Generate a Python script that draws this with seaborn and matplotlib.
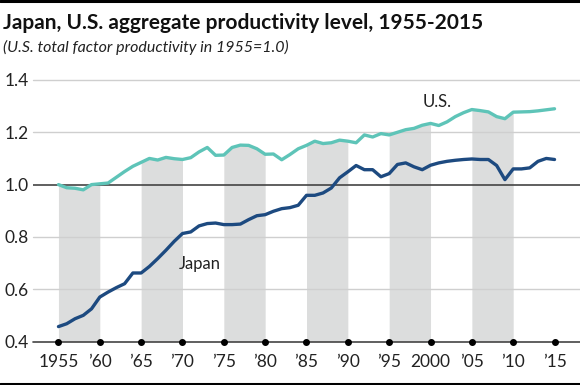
import numpy as np
import pandas as pd
import matplotlib
matplotlib.use("Agg")
import matplotlib.pyplot as plt
import seaborn as sns
from matplotlib.lines import Line2D

years = list(range(1955, 2016))
us = [1.000, 0.988, 0.986, 0.980, 1.000, 1.003, 1.006, 1.028, 1.050, 1.070,
      1.085, 1.100, 1.094, 1.104, 1.099, 1.096, 1.103, 1.125, 1.142, 1.112,
      1.113, 1.142, 1.151, 1.150, 1.137, 1.116, 1.117, 1.095, 1.115, 1.137,
      1.150, 1.166, 1.157, 1.160, 1.170, 1.166, 1.160, 1.190, 1.182, 1.195,
      1.190, 1.200, 1.210, 1.215, 1.227, 1.234, 1.226, 1.240, 1.260, 1.275,
      1.287, 1.283, 1.278, 1.260, 1.252, 1.277, 1.278, 1.279, 1.282, 1.286,
      1.290]
japan = [0.457, 0.468, 0.487, 0.500, 0.525, 0.570, 0.589, 0.606, 0.621, 0.662,
         0.662, 0.687, 0.717, 0.749, 0.783, 0.813, 0.819, 0.842, 0.851, 0.853,
         0.847, 0.847, 0.849, 0.866, 0.881, 0.885, 0.898, 0.908, 0.912, 0.921,
         0.959, 0.959, 0.968, 0.987, 1.026, 1.049, 1.073, 1.057, 1.057, 1.030,
         1.042, 1.077, 1.083, 1.068, 1.057, 1.074, 1.083, 1.089, 1.093, 1.096,
         1.098, 1.096, 1.096, 1.073, 1.019, 1.060, 1.060, 1.064, 1.089, 1.100,
         1.096]
tick_years = [1955, 1960, 1965, 1970, 1975, 1980, 1985, 1990, 1995, 2000, 2005, 2010, 2015]
tick_labels = ["1955", "\u201960", "\u201965", "\u201970", "\u201975", "\u201980", "\u201985",
               "\u201990", "\u201995", "2000", "\u201905", "\u201910", "\u201915"]
shade_starts = [1955, 1965, 1975, 1985, 1995, 2005]
y_ticks = [0.4, 0.6, 0.8, 1.0, 1.2, 1.4]
y_labels = ["0.4", "0.6", "0.8", "1.0", "1.2", "1.4"]

sns.set_style("white")
plt.rcParams['font.family'] = ['Lato', 'DejaVu Sans']

W, H = 580, 385
fig = plt.figure(figsize=(W / 100, H / 100), dpi=100)
ax = fig.add_axes([33 / W, 43.5 / H, (W - 33) / W, (305 - 43.5) / H])

df = pd.DataFrame({"year": years, "us": us, "japan": japan})
yarr = np.array(years)
usarr = np.array(us)

for s in shade_starts:
    m = (yarr >= s) & (yarr <= s + 5)
    ax.fill_between(yarr[m], 0.4, usarr[m], color="#dcdddd", lw=0, zorder=1)

for v in [0.6, 0.8, 1.2, 1.4]:
    ax.axhline(v, color="#cfcfcf", lw=1.0, zorder=2, clip_on=False)
ax.axhline(1.0, color="#444444", lw=1.2, zorder=3)
ax.axhline(0.4, color="#444444", lw=1.2, zorder=3, clip_on=False)

sns.lineplot(data=df, x="year", y="us", ax=ax, color="#5ec4b8", lw=2.4, zorder=5)
sns.lineplot(data=df, x="year", y="japan", ax=ax, color="#1d4a80", lw=2.4, zorder=6)

ax.scatter(tick_years, [0.4] * len(tick_years), s=16, color="black", zorder=7, clip_on=False)

ax.set_xlim(1951.92, 2018.08)
ax.set_ylim(0.4, 1.4)
ax.set_xticks(tick_years)
ax.set_xticklabels(tick_labels)
ax.set_yticks(y_ticks)
ax.set_yticklabels(y_labels)
ax.tick_params(axis="both", length=0, labelsize=12.5, colors="#222222")
ax.tick_params(axis="x", pad=9)
ax.tick_params(axis="y", pad=3)
ax.set_xlabel("")
ax.set_ylabel("")
for sp in ax.spines.values():
    sp.set_visible(False)

ax.text(1972.1, 0.697, "Japan", fontsize=12, color="#222222", ha="center", va="center")
ax.text(2000.8, 1.314, "U.S.", fontsize=12, color="#222222", ha="center", va="center")

fig.text(3 / W, 1 - 23 / H, "Japan, U.S. aggregate productivity level, 1955-2015",
         fontsize=15.0, fontweight="bold", color="#111111", ha="left", va="center")
fig.text(3 / W, 1 - 47 / H, "(U.S. total factor productivity in 1955=1.0)",
         fontsize=11.5, style="italic", color="#222222", ha="left", va="center")

fig.add_artist(Line2D([0, 1], [1 - 1.2 / H, 1 - 1.2 / H], transform=fig.transFigure, color="black", lw=2.2))
fig.add_artist(Line2D([0, 1], [1.5 / H, 1.5 / H], transform=fig.transFigure, color="black", lw=2.2))

fig.savefig("out.png", dpi=100)
